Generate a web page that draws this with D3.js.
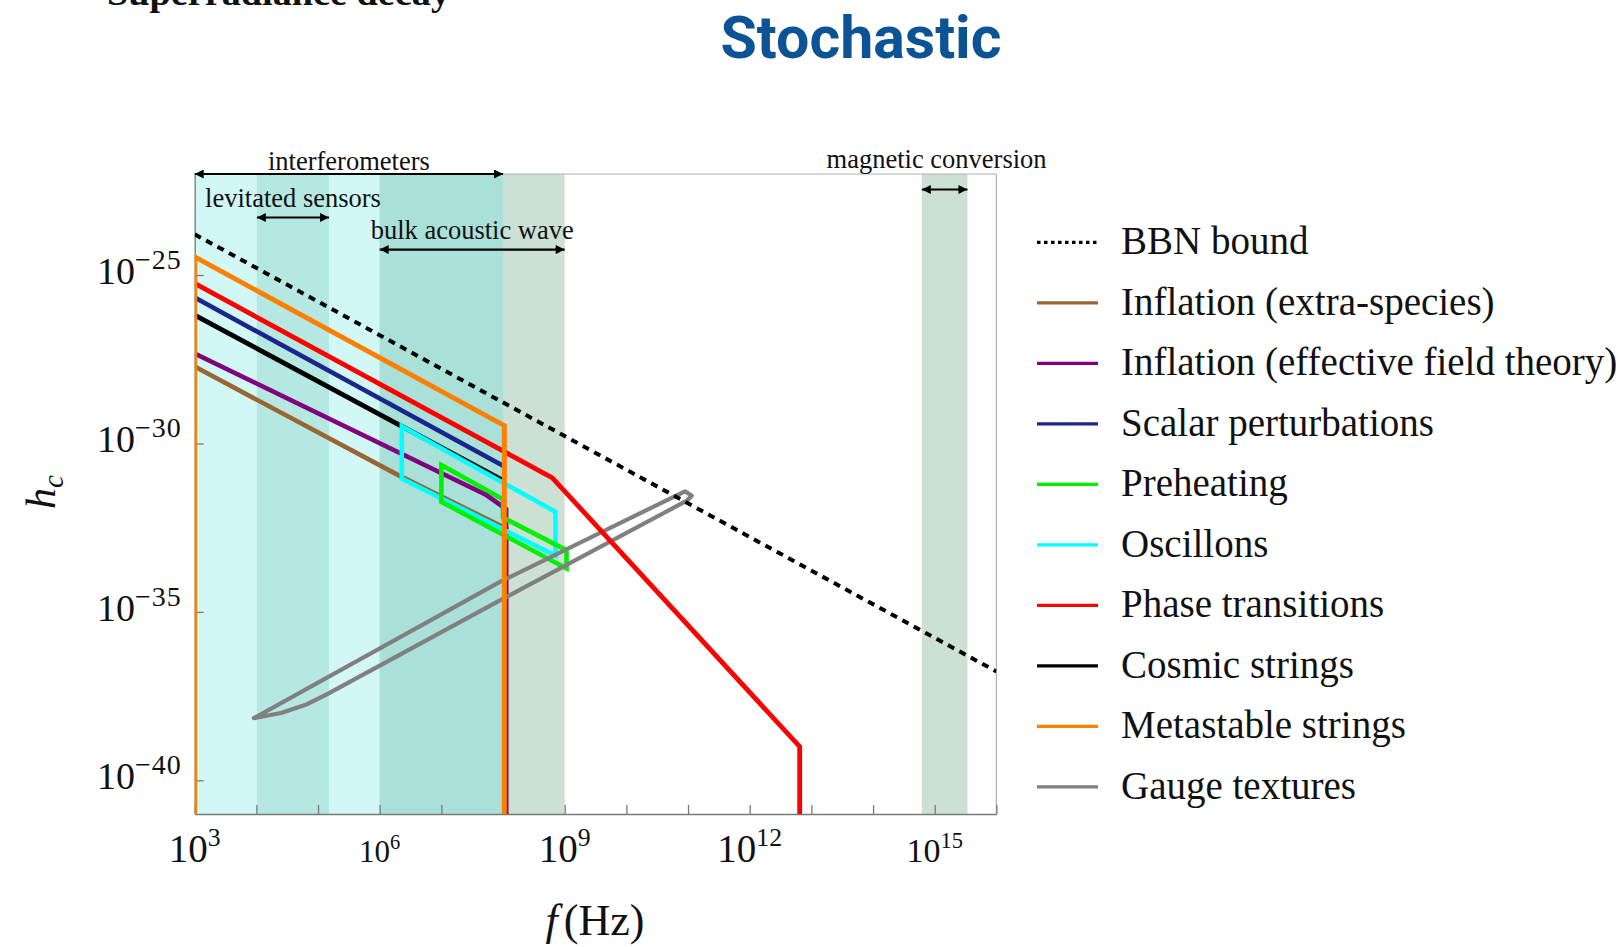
<!DOCTYPE html>
<html><head><meta charset="utf-8">
<script src="https://cdn.jsdelivr.net/npm/d3@7"></script>
<style>body{margin:0;background:#fff;} svg{display:block;}</style>
</head><body>
<svg id="chart" width="1624" height="947"></svg>
<script>
// ---------------- DATA ----------------
const seriesNames = ["BBN bound","Inflation (extra-species)","Inflation (effective field theory)","Scalar perturbations","Preheating","Oscillons","Phase transitions","Cosmic strings","Metastable strings","Gauge textures"];

const bbnF = [1e3, 1e16];
const bbnH = [1.62e-24, 1.7e-37];

const extraSpeciesF = [1e3, 2.0e6, 1.12e8, 1.12e8];
const extraSpeciesH = [1.91e-28, 1.15e-31, 3.0e-33, 1e-41];

const eftF = [1e3, 5.37e7, 1.0e8, 1.12e8, 1.12e8];
const eftH = [4.68e-28, 2.95e-32, 1.32e-32, 1.12e-32, 1e-41];

const scalarF = [1e3, 1.07e8];
const scalarH = [2.14e-26, 2.04e-31];

const preheatF = [1e7, 1e8, 1e8, 1.07e9, 1.07e9, 1e7];
const preheatH = [2.29e-31, 2.2e-32, 6.3e-33, 6.76e-34, 1.95e-34, 1.86e-32];

const oscillonF = [2.28e6, 7.08e8, 7.08e8, 2.28e6];
const oscillonH = [3.24e-30, 9.33e-33, 4.68e-34, 9.12e-32];

const phaseF = [1e3, 6.3e8, 6.46e12, 6.46e12];
const phaseH = [5.62e-26, 9.55e-32, 1e-39, 1e-41];

const cosmicF = [1e3, 2.14e6, 1e8];
const cosmicH = [6.46e-27, 3.47e-30, 8.0e-32];

const metastableF = [1e3, 1e3, 1.05e8, 1.05e8];
const metastableH = [1e-41, 3.47e-25, 3.39e-30, 1e-41];

const gaugeF = [9.1e3, 8.9e7, 8.9e10, 1.15e11, 9.55e10, 8.9e7, 1.41e5, 6.3e4, 2.51e4];
const gaugeH = [7.0e-39, 7.76e-35, 3.8e-32, 2.82e-32, 2.0e-32, 2.19e-35, 3.6e-38, 1.74e-38, 1.0e-38];

const bandLabels = ["interferometers", "levitated sensors", "bulk acoustic wave", "magnetic conversion"];
const bandLo = [1e3, 1.02e4, 1e6, 6.17e14];
const bandHi = [1e8, 1.51e5, 1e9, 3.39e15];

const xTickDecades = [3,4,5,6,7,8,9,10,11,12,13,14,15,16];
const xLabelExps = [3, 6, 9, 12, 15];
const yLabelExps = [-25, -30, -35, -40];

// ---------------- STYLE ----------------
const seriesColors = ["#000000","#996633","#800080","#1a2590","#00f000","#00ffff","#ff0000","#000000","#ff8000","#808080"];
const bandFill = {"interferometers":"#d1f8f5","levitated sensors":"#b5e8e0","bulk acoustic wave":"#cce0d3","magnetic conversion":"#cce0d3"};
const overlapFill = "#a9e0d8";
const serif = "'Liberation Serif','Times New Roman',serif";

// ---------------- CHART ----------------
const svg = d3.select("#chart");
const P = {left:194.7, right:996.4, top:174, bottom:814};
const x = d3.scaleLog().domain([1e3,1e16]).range([P.left,P.right]);
const y = d3.scaleLog().domain([1e-41,1e-22]).range([P.bottom,P.top]);

const defs = svg.append("defs");
defs.append("clipPath").attr("id","clip").append("rect")
  .attr("x",P.left).attr("y",P.top).attr("width",P.right-P.left).attr("height",P.bottom-P.top);
defs.append("marker").attr("id","arr").attr("viewBox","0 0 10 10").attr("refX",10).attr("refY",5)
  .attr("markerWidth",12).attr("markerHeight",9).attr("markerUnits","userSpaceOnUse")
  .attr("orient","auto-start-reverse")
  .append("path").attr("d","M0,0 L10,5 L0,10 Z").attr("fill","#000");

// Title and cut-off heading
svg.append("text").attr("x",107).attr("y",4.5).attr("font-family",serif).attr("font-weight","bold")
  .attr("font-size",36).attr("fill","#111").attr("textLength",343).attr("lengthAdjust","spacingAndGlyphs")
  .text("Superradiance decay");
svg.append("text").attr("x",861).attr("y",58).attr("text-anchor","middle")
  .attr("font-family","Roboto,'Noto Sans',sans-serif").attr("font-weight","bold").attr("font-size",60)
  .attr("fill","#0b5394").attr("textLength",281).attr("lengthAdjust","spacingAndGlyphs").text("Stochastic");

// Bands
const gB = svg.append("g").attr("clip-path","url(#clip)");
function band(lo,hi,fill){
  gB.append("rect").attr("x",x(lo)).attr("y",P.top).attr("width",x(hi)-x(lo)).attr("height",P.bottom-P.top).attr("fill",fill);
}
band(bandLo[0],bandHi[0],bandFill[bandLabels[0]]);
band(bandLo[2],bandHi[2],bandFill[bandLabels[2]]);
band(Math.max(bandLo[0],bandLo[2]),Math.min(bandHi[0],bandHi[2]),overlapFill);
band(bandLo[1],bandHi[1],bandFill[bandLabels[1]]);
band(bandLo[3],bandHi[3],bandFill[bandLabels[3]]);

// Frame
svg.append("line").attr("x1",P.left).attr("x2",P.right).attr("y1",P.top).attr("y2",P.top).attr("stroke","#b0b0b0").attr("stroke-width",1.2);
svg.append("line").attr("x1",P.right).attr("x2",P.right).attr("y1",P.top).attr("y2",P.bottom).attr("stroke","#b0b0b0").attr("stroke-width",1.2);

// Axes
const xAxis = svg.append("g").attr("transform",`translate(0,${P.bottom})`)
  .call(d3.axisBottom(x).tickValues(xTickDecades.map(d=>Math.pow(10,d))).tickSize(-9).tickSizeOuter(0).tickFormat(""));
xAxis.selectAll("path,line").attr("stroke","#7a7a7a").attr("stroke-width",1.3);
const yAxis = svg.append("g").attr("transform",`translate(${P.left},0)`)
  .call(d3.axisLeft(y).tickValues(yLabelExps.map(d=>Math.pow(10,d))).tickSize(-9).tickSizeOuter(0).tickFormat(""));
yAxis.selectAll("path,line").attr("stroke","#7a7a7a").attr("stroke-width",1.3);

const xLabelSize = {3:39, 6:31, 9:39, 12:39, 15:34};
xLabelExps.forEach(e=>{
  const s = xLabelSize[e];
  const t = svg.append("text").attr("x",x(Math.pow(10,e))).attr("y",862).attr("text-anchor","middle")
    .attr("font-family",serif).attr("font-size",s).attr("fill","#111");
  t.append("tspan").text("10");
  t.append("tspan").attr("dy",-s*0.42).attr("font-size",s*0.66).text(e);
});
yLabelExps.forEach(e=>{
  const t = svg.append("text").attr("x",P.left-13).attr("y",y(Math.pow(10,e))+9).attr("text-anchor","end")
    .attr("font-family",serif).attr("font-size",38).attr("fill","#111");
  t.append("tspan").text("10");
  t.append("tspan").attr("dy",-15).attr("font-size",28).attr("letter-spacing",1).text("\u2212"+(-e));
});

// Axis titles
svg.append("text").attr("transform","translate(55,492) rotate(-90)").attr("text-anchor","middle")
  .attr("font-family",serif).attr("font-size",42).attr("font-style","italic").attr("fill","#111")
  .call(t=>{t.append("tspan").text("h"); t.append("tspan").attr("dy",8).attr("font-size",29).text("c");});
svg.append("text").attr("x",595).attr("y",935).attr("text-anchor","middle")
  .attr("font-family",serif).attr("font-size",44).attr("fill","#111")
  .call(t=>{t.append("tspan").attr("font-style","italic").text("f"); t.append("tspan").attr("dx",6).text("(Hz)");});

// Series
const gL = svg.append("g").attr("clip-path","url(#clip)").attr("fill","none").attr("stroke-linejoin","miter");
const line = d3.line().x(d=>x(d[0])).y(d=>y(d[1]));
const zip = (f,h)=>f.map((v,i)=>[v,h[i]]);
function draw(f,h,color,w,closed,dash){
  const p = gL.append("path").attr("d",line(zip(f,h))+(closed?"Z":"")).attr("stroke",color).attr("stroke-width",w);
  if(dash) p.attr("stroke-dasharray",dash);
  return p;
}
draw(extraSpeciesF,extraSpeciesH,seriesColors[1],4.6,false);
draw(eftF,eftH,seriesColors[2],4.6,false);
draw(scalarF,scalarH,seriesColors[3],4.6,false);
draw(cosmicF,cosmicH,seriesColors[7],4.8,false);
draw(oscillonF,oscillonH,seriesColors[5],4.6,true);
draw(preheatF,preheatH,seriesColors[4],4.6,true);
draw(gaugeF,gaugeH,seriesColors[9],4.2,true).attr("stroke-linejoin","round");
draw(phaseF,phaseH,seriesColors[6],4.8,false);
draw(metastableF,metastableH,seriesColors[8],5,false);
draw(bbnF,bbnH,seriesColors[0],4,false,"7,6");

// Band annotations (double arrows)
const ann = [
  {i:0, ay:174, ty:170},
  {i:1, ay:217.5, ty:207},
  {i:2, ay:249.6, ty:239},
  {i:3, ay:189.5, ty:168}
];
ann.forEach(a=>{
  const lo=bandLo[a.i], hi=bandHi[a.i];
  svg.append("line").attr("x1",x(lo)).attr("x2",x(hi)).attr("y1",a.ay).attr("y2",a.ay)
    .attr("stroke","#000").attr("stroke-width",2.2).attr("marker-start","url(#arr)").attr("marker-end","url(#arr)");
  svg.append("text").attr("x",(x(lo)+x(hi))/2 - (a.i===3?8:0)).attr("y",a.ty).attr("text-anchor","middle")
    .attr("font-family",serif).attr("font-size",26.5).attr("fill","#111").text(bandLabels[a.i]);
});

// Legend
const legY0 = 242.4, legDY = 60.5;
const lg = svg.append("g");
seriesNames.forEach((n,i)=>{
  const yy = legY0 + i*legDY;
  const l = lg.append("line").attr("x1",1037).attr("x2",1098).attr("y1",yy).attr("y2",yy)
    .attr("stroke",seriesColors[i]).attr("stroke-width",3.2);
  if(i===0) l.attr("stroke-dasharray","3.5,3.5").attr("stroke-width",3.2);
  lg.append("text").attr("x",1121).attr("y",yy+12).attr("font-family",serif).attr("font-size",39)
    .attr("fill","#111").text(n);
});
</script>
</body></html>
